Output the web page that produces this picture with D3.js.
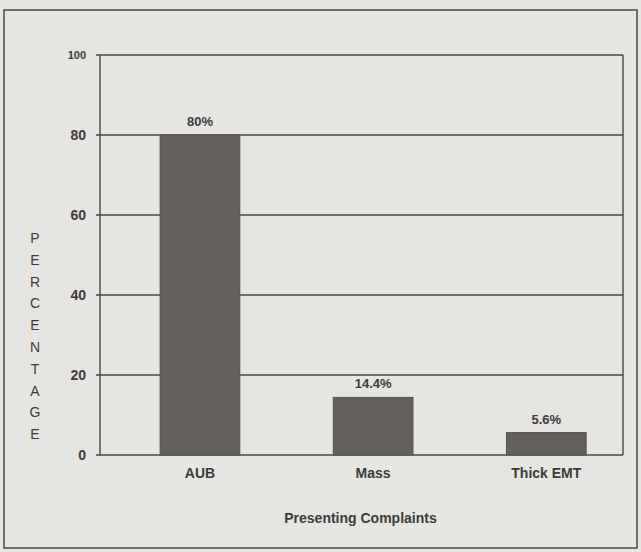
<!DOCTYPE html>
<html>
<head>
<meta charset="utf-8">
<script src="https://cdn.jsdelivr.net/npm/d3@7"></script>
<style>
  body { margin: 0; background: #e5e5e1; }
  svg { display: block; }
  text { font-family: "Liberation Sans", Arial, sans-serif; font-weight: bold; fill: #3d3b3a; }
</style>
</head>
<body>
<script>
// chart values
var complaints = ["AUB", "Mass", "Thick EMT"];
var percents = [80, 14.4, 5.6];
var valueLabels = ["80%", "14.4%", "5.6%"];
var yTicks = [0, 20, 40, 60, 80, 100];
var yTitle = "PERCENTAGE";
var xTitle = "Presenting Complaints";

var W = 641, H = 552;
var margin = {top: 55, right: 18, bottom: 97, left: 100};
var width = W - margin.left - margin.right,
    height = H - margin.top - margin.bottom;

var svg = d3.select("body").append("svg")
    .attr("width", W)
    .attr("height", H);

// outer page frame
svg.append("rect")
    .attr("x", 4).attr("y", 10)
    .attr("width", W - 8).attr("height", H - 14)
    .attr("fill", "none")
    .attr("stroke", "#4a4846")
    .attr("stroke-width", 1.5);

var g = svg.append("g")
    .attr("transform", "translate(" + margin.left + "," + margin.top + ")");

var x = d3.scaleBand()
    .domain(complaints)
    .range([0, width])
    .paddingInner(0.54)
    .paddingOuter(0.28)
    .align(0.62);

var y = d3.scaleLinear()
    .domain([0, 100])
    .range([height, 0]);

// grid lines
g.append("g")
    .selectAll("line")
    .data(yTicks)
    .join("line")
    .attr("x1", -4).attr("x2", width)
    .attr("y1", function(d){ return y(d); })
    .attr("y2", function(d){ return y(d); })
    .attr("stroke", "#4a4644")
    .attr("stroke-width", 1.4);

// plot frame sides
g.append("line")
    .attr("x1", 0).attr("x2", 0).attr("y1", 0).attr("y2", height)
    .attr("stroke", "#4a4644").attr("stroke-width", 1.4);
g.append("line")
    .attr("x1", width).attr("x2", width).attr("y1", 0).attr("y2", height)
    .attr("stroke", "#4a4644").attr("stroke-width", 1.4);

// y axis tick labels
var yAxis = d3.axisLeft(y).tickValues(yTicks).tickSize(0).tickPadding(14);
var ya = g.append("g").call(yAxis);
ya.select(".domain").remove();
ya.selectAll("text")
    .style("font-size", "14px")
    .attr("fill", "#3d3b3a");
ya.selectAll("text").filter(function(d){ return d === 100; })
    .style("font-size", "11px")
    .attr("fill", "#8a8886");

// bars
g.selectAll(".bar")
    .data(complaints)
    .join("rect")
    .attr("class", "bar")
    .attr("x", function(d){ return x(d); })
    .attr("width", x.bandwidth())
    .attr("y", function(d, i){ return y(percents[i]); })
    .attr("height", function(d, i){ return height - y(percents[i]); })
    .attr("fill", "#64605c")
    .attr("stroke", "#54504c")
    .attr("stroke-width", 1);

// value labels
g.selectAll(".val")
    .data(complaints)
    .join("text")
    .attr("class", "val")
    .attr("x", function(d){ return x(d) + x.bandwidth() / 2; })
    .attr("y", function(d, i){ return y(percents[i]) - 9; })
    .attr("text-anchor", "middle")
    .style("font-size", "13px")
    .text(function(d, i){ return valueLabels[i]; });

// x axis labels
var xAxis = d3.axisBottom(x).tickSize(0).tickPadding(13);
var xa = g.append("g")
    .attr("transform", "translate(0," + height + ")")
    .call(xAxis);
xa.select(".domain").remove();
xa.selectAll("text")
    .style("font-size", "14px")
    .attr("fill", "#3d3b3a");

// axis titles
svg.append("text")
    .attr("x", margin.left + width / 2 - 1)
    .attr("y", 523)
    .attr("text-anchor", "middle")
    .style("font-size", "14px")
    .text(xTitle);

svg.append("g")
    .selectAll("text")
    .data(yTitle.split(""))
    .join("text")
    .attr("x", 35)
    .attr("y", function(d, i){ return 243 + i * 21.8; })
    .attr("text-anchor", "middle")
    .style("font-size", "14px")
    .style("font-weight", "normal")
    .text(function(d){ return d; });
</script>
</body>
</html>
